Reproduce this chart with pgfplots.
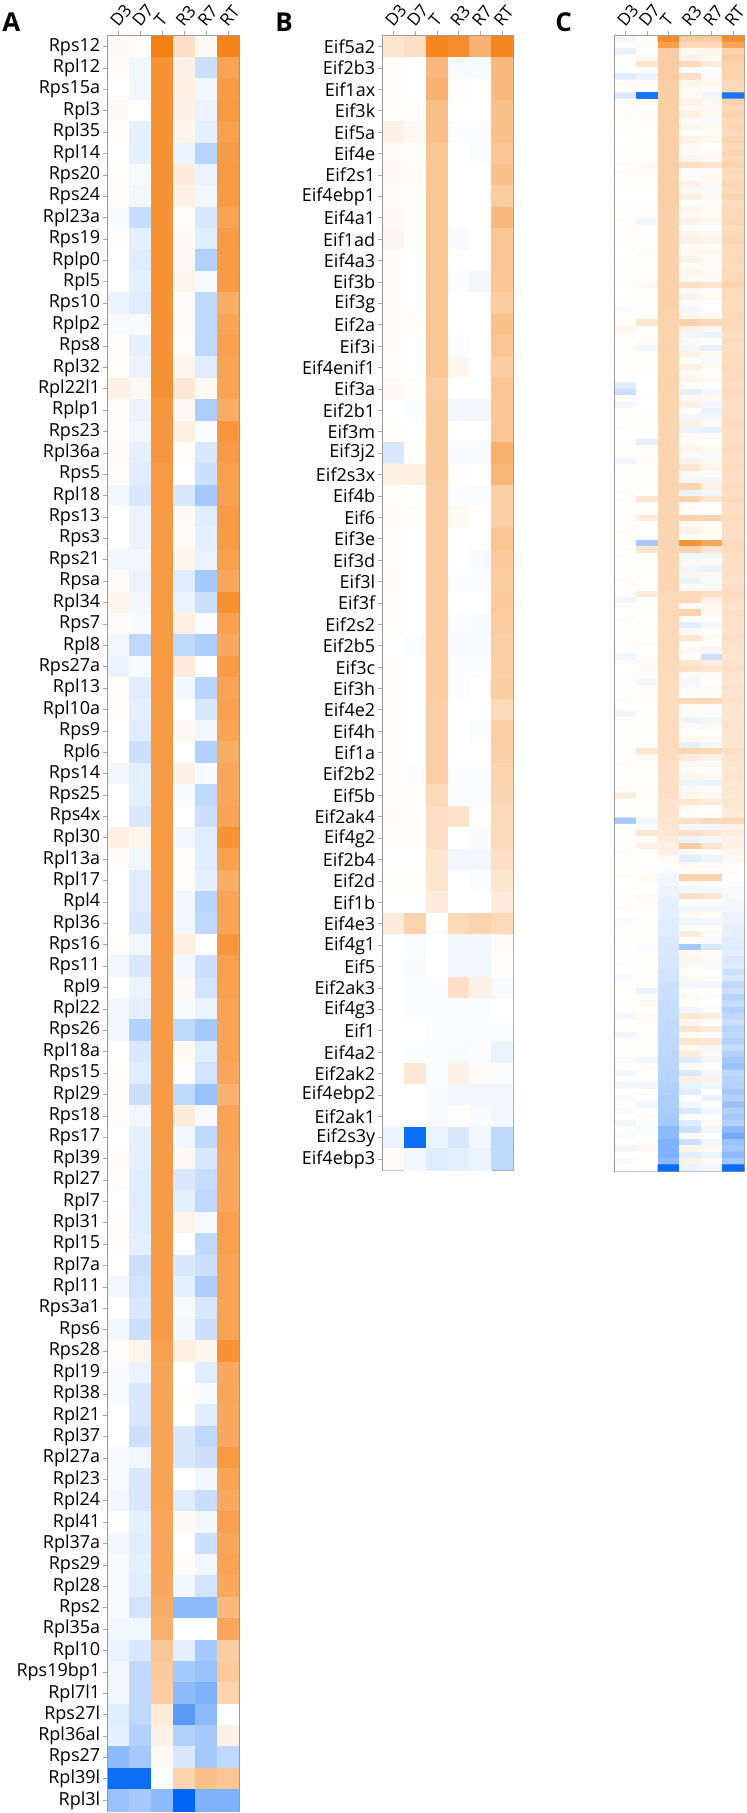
\documentclass[border=0pt]{standalone}
\usepackage{fontspec}
\setmainfont{Open Sans}
\usepackage{pgfplots}
\usepackage{pgfplotstable}
\pgfplotsset{compat=1.18}

% log ratios, blue = down, orange = up
\pgfplotstableread{
gene D3 D7 T R3 R7 RT
Rps12 0.05 0.02 1.0 0.25 0.05 0.98
Rpl12 0.03 -0.05 0.85 0.1 -0.2 0.72
Rps15a 0.0 -0.05 0.85 0.12 -0.05 0.78
Rpl3 0.05 0.0 0.85 0.1 -0.08 0.8
Rpl35 0.02 -0.1 0.85 0.08 -0.1 0.75
Rpl14 0.0 -0.1 0.85 -0.08 -0.28 0.78
Rps20 0.02 -0.03 0.85 0.15 -0.08 0.8
Rps24 0.02 -0.05 0.85 0.12 -0.05 0.8
Rpl23a -0.03 -0.22 0.85 0.02 -0.15 0.72
Rps19 0.02 -0.1 0.85 0.05 -0.12 0.78
Rplp0 0.0 -0.12 0.85 0.05 -0.3 0.8
Rpl5 0.0 -0.1 0.85 0.08 -0.03 0.78
Rps10 -0.08 -0.12 0.85 0.03 -0.25 0.65
Rplp2 -0.03 -0.03 0.85 0.03 -0.25 0.72
Rps8 0.02 -0.1 0.85 0.02 -0.25 0.75
Rpl32 0.02 -0.08 0.85 0.08 -0.12 0.72
Rpl22l1 0.12 0.05 0.85 0.18 0.05 0.72
Rplp1 0.02 -0.08 0.82 0.05 -0.32 0.65
Rps23 0.02 -0.05 0.82 0.12 -0.02 0.82
Rpl36a 0.03 -0.1 0.82 0.02 -0.15 0.78
Rps5 0.02 -0.12 0.8 0.0 -0.2 0.75
Rpl18 -0.05 -0.15 0.8 -0.15 -0.35 0.75
Rps13 0.0 -0.08 0.8 0.05 -0.12 0.78
Rps3 0.0 -0.08 0.8 0.03 -0.1 0.78
Rps21 -0.05 -0.05 0.8 0.08 -0.08 0.75
Rpsa 0.03 -0.08 0.8 -0.12 -0.35 0.7
Rpl34 0.08 -0.05 0.8 -0.08 -0.2 0.88
Rps7 0.03 -0.03 0.8 0.12 -0.02 0.75
Rpl8 -0.05 -0.25 0.8 -0.25 -0.32 0.68
Rps27a -0.08 -0.03 0.8 0.15 0.0 0.78
Rpl13 0.02 -0.12 0.8 -0.05 -0.28 0.72
Rpl10a 0.02 -0.1 0.8 0.0 -0.15 0.75
Rps9 0.0 -0.12 0.8 0.05 -0.05 0.72
Rpl6 0.0 -0.2 0.8 0.0 -0.3 0.65
Rps14 -0.05 -0.1 0.8 0.1 -0.03 0.7
Rps25 0.0 -0.1 0.8 -0.03 -0.25 0.7
Rps4x 0.0 -0.15 0.8 0.0 -0.2 0.72
Rpl30 0.12 0.08 0.8 -0.05 -0.12 0.85
Rpl13a 0.03 -0.05 0.8 0.02 -0.12 0.75
Rpl17 0.0 -0.12 0.8 0.02 -0.1 0.65
Rpl4 0.0 -0.12 0.8 -0.05 -0.28 0.72
Rpl36 0.0 -0.15 0.78 -0.05 -0.25 0.72
Rps16 0.02 -0.05 0.78 0.12 0.0 0.82
Rps11 -0.05 -0.15 0.78 -0.05 -0.2 0.75
Rpl9 0.0 -0.08 0.78 0.05 -0.18 0.75
Rpl22 -0.05 -0.1 0.78 -0.03 -0.08 0.72
Rps26 -0.05 -0.3 0.78 -0.25 -0.35 0.72
Rpl18a 0.0 -0.15 0.78 0.05 -0.12 0.72
Rps15 0.02 -0.12 0.78 0.02 -0.18 0.7
Rpl29 0.02 -0.2 0.78 -0.25 -0.4 0.6
Rps18 0.02 -0.05 0.78 0.15 -0.03 0.72
Rps17 0.0 -0.1 0.78 -0.05 -0.25 0.72
Rpl39 0.03 -0.1 0.78 0.05 -0.15 0.7
Rpl27 0.02 -0.12 0.78 -0.15 -0.22 0.7
Rpl7 0.0 -0.12 0.78 -0.1 -0.25 0.7
Rpl31 0.02 -0.12 0.78 0.08 -0.03 0.75
Rpl15 0.02 -0.1 0.78 0.0 -0.25 0.75
Rpl7a 0.0 -0.2 0.78 -0.15 -0.2 0.72
Rpl11 -0.05 -0.18 0.78 -0.1 -0.32 0.72
Rps3a1 0.0 -0.15 0.78 -0.03 -0.15 0.72
Rps6 -0.05 -0.2 0.78 -0.05 -0.2 0.72
Rps28 0.02 0.08 0.75 0.12 0.08 0.85
Rpl19 -0.03 -0.08 0.72 0.0 -0.12 0.68
Rpl38 -0.03 -0.15 0.72 0.02 -0.03 0.7
Rpl21 0.0 -0.15 0.72 0.0 -0.12 0.68
Rpl37 0.0 -0.2 0.72 -0.15 -0.25 0.68
Rpl27a -0.03 -0.05 0.72 -0.15 -0.2 0.8
Rpl23 -0.03 -0.15 0.72 0.0 -0.05 0.72
Rpl24 -0.05 -0.15 0.72 -0.12 -0.22 0.68
Rpl41 0.0 -0.1 0.7 0.05 -0.05 0.75
Rpl37a -0.05 -0.12 0.7 0.0 -0.2 0.7
Rps29 -0.03 -0.1 0.7 0.03 -0.05 0.72
Rpl28 -0.03 -0.12 0.68 -0.05 -0.18 0.68
Rps2 -0.03 -0.18 0.65 -0.45 -0.45 0.55
Rpl35a -0.05 -0.05 0.62 0.0 0.0 0.7
Rpl10 -0.08 -0.15 0.45 -0.1 -0.35 0.4
Rps19bp1 -0.05 -0.25 0.42 -0.35 -0.4 0.42
Rpl7l1 -0.05 -0.25 0.4 -0.45 -0.5 0.35
Rps27l -0.12 -0.25 0.15 -0.65 -0.45 0.0
Rpl36al -0.1 -0.3 0.1 -0.3 -0.35 0.1
Rps27 -0.45 -0.35 0.05 -0.15 -0.35 -0.25
Rpl39l -0.95 -0.95 0.0 0.35 0.5 0.45
Rpl3l -0.4 -0.35 -0.45 -1.0 -0.5 -0.5
}\dataA

\pgfplotstableread{
gene D3 D7 T R3 R7 RT
Eif5a2 0.2 0.25 0.95 0.9 0.6 0.95
Eif2b3 0.02 0.0 0.55 -0.03 -0.03 0.55
Eif1ax 0.02 0.0 0.6 0.02 0.0 0.55
Eif3k 0.02 0.02 0.5 0.0 0.0 0.5
Eif5a 0.1 0.05 0.5 -0.02 -0.02 0.5
Eif4e 0.03 0.02 0.45 0.0 -0.02 0.45
Eif2s1 0.05 0.03 0.45 0.0 0.0 0.5
Eif4ebp1 0.03 0.02 0.45 0.0 0.0 0.4
Eif4a1 0.05 0.02 0.45 0.0 0.0 0.55
Eif1ad 0.06 0.02 0.45 -0.03 0.0 0.45
Eif4a3 0.03 0.0 0.45 0.0 0.0 0.45
Eif3b 0.03 0.0 0.45 -0.02 -0.05 0.45
Eif3g 0.03 0.0 0.45 0.0 0.0 0.4
Eif2a 0.03 0.02 0.45 0.0 0.0 0.5
Eif3i 0.03 0.0 0.45 -0.02 0.0 0.45
Eif4enif1 0.02 0.0 0.45 0.08 0.0 0.4
Eif3a 0.05 0.02 0.4 0.0 0.0 0.45
Eif2b1 0.0 -0.02 0.42 -0.05 -0.05 0.45
Eif3m 0.02 0.0 0.42 0.0 0.0 0.45
Eif3j2 -0.15 0.02 0.42 -0.03 -0.03 0.62
Eif2s3x 0.12 0.12 0.42 0.02 0.0 0.58
Eif4b 0.02 0.0 0.4 -0.02 -0.02 0.38
Eif6 0.03 0.02 0.4 0.05 0.0 0.38
Eif3e 0.02 0.0 0.4 0.0 0.0 0.45
Eif3d 0.02 0.0 0.4 0.0 -0.03 0.42
Eif3l 0.03 0.0 0.4 -0.02 -0.02 0.4
Eif3f 0.02 0.0 0.4 0.0 0.0 0.42
Eif2s2 0.02 0.0 0.4 -0.02 -0.03 0.4
Eif2b5 0.0 -0.02 0.4 -0.03 -0.03 0.38
Eif3c 0.02 0.0 0.4 -0.02 -0.02 0.38
Eif3h 0.02 0.0 0.4 -0.02 0.0 0.4
Eif4e2 0.02 0.0 0.38 0.0 0.0 0.3
Eif4h 0.02 0.0 0.38 0.0 -0.02 0.38
Eif1a 0.02 0.0 0.38 0.0 0.0 0.38
Eif2b2 0.02 -0.02 0.38 -0.02 -0.02 0.35
Eif5b 0.02 0.02 0.3 -0.02 -0.02 0.32
Eif2ak4 0.03 0.02 0.25 0.22 0.02 0.3
Eif4g2 0.02 0.02 0.25 0.0 -0.03 0.3
Eif2b4 0.0 0.0 0.2 -0.05 -0.05 0.25
Eif2d 0.02 0.02 0.2 0.0 -0.02 0.2
Eif1b 0.0 0.0 0.15 0.0 0.0 0.15
Eif4e3 0.15 0.35 0.02 0.3 0.35 0.3
Eif4g1 0.0 -0.02 0.0 -0.05 -0.05 0.03
Eif5 0.0 -0.03 0.0 -0.05 -0.05 0.02
Eif2ak3 0.0 -0.02 -0.02 0.25 0.1 -0.03
Eif4g3 0.0 -0.02 -0.02 -0.02 -0.02 0.0
Eif1 0.0 0.0 -0.02 -0.02 -0.02 -0.02
Eif4a2 0.0 -0.02 -0.02 -0.03 -0.02 -0.08
Eif2ak2 0.0 0.18 -0.02 0.1 0.03 -0.02
Eif4ebp2 0.0 0.0 -0.03 -0.05 -0.05 -0.05
Eif2ak1 0.0 0.0 -0.03 0.02 -0.03 -0.05
Eif2s3y -0.08 -0.95 -0.08 -0.15 -0.05 -0.25
Eif4ebp3 0.03 -0.05 -0.12 -0.1 -0.08 -0.25
}\dataB

\pgfplotstableread{
D3 D7 T R3 R7 RT
-0.05 0.02 0.9 0.4 0.4 0.9
0.02 0.03 0.75 0.3 0.3 0.7
-0.08 0.0 0.4 0.05 0.08 0.35
0.02 0.05 0.4 0.1 0.05 0.4
0.02 0.2 0.4 0.3 0.15 0.35
0.0 0.02 0.4 -0.02 -0.02 0.35
-0.12 -0.08 0.4 0.25 0.05 0.35
0.02 0.02 0.38 0.08 0.05 0.3
0.0 0.0 0.38 0.05 0.03 0.3
-0.15 -0.9 0.38 0.03 -0.05 -0.9
0.03 0.02 0.38 0.1 0.05 0.35
0.02 0.0 0.38 0.05 0.05 0.3
0.03 0.03 0.38 0.12 0.05 0.35
0.0 0.02 0.38 0.03 -0.03 0.3
0.02 0.02 0.38 0.08 0.05 0.32
0.02 0.0 0.38 0.02 0.02 0.3
0.0 0.02 0.38 0.1 0.05 0.35
0.02 0.02 0.38 0.05 0.0 0.3
0.02 0.0 0.38 0.03 0.05 0.33
0.0 0.02 0.38 0.08 0.05 0.3
0.02 0.05 0.38 0.25 0.2 0.35
0.02 0.02 0.38 0.03 0.03 0.3
0.0 0.0 0.38 -0.02 0.05 0.28
0.02 0.02 0.38 0.1 0.05 0.32
0.02 0.02 0.38 0.05 -0.03 0.3
0.0 0.0 0.38 0.12 0.05 0.35
0.02 0.02 0.38 0.0 0.02 0.28
0.02 0.02 0.36 0.08 0.05 0.3
0.0 0.02 0.36 0.05 0.03 0.3
0.02 -0.05 0.36 0.1 0.05 0.32
0.02 0.0 0.36 0.02 0.0 0.28
0.0 0.02 0.36 0.08 0.05 0.3
0.02 0.02 0.36 0.12 0.08 0.33
0.02 0.0 0.36 0.03 0.03 0.3
0.0 0.02 0.36 0.05 0.05 0.28
0.02 0.02 0.36 0.1 0.05 0.3
0.02 0.0 0.36 0.02 -0.02 0.28
0.0 0.02 0.36 0.08 0.05 0.3
0.02 0.02 0.36 0.05 0.05 0.3
0.02 0.05 0.36 0.25 0.2 0.33
0.0 0.02 0.36 0.05 0.03 0.28
0.02 0.02 0.36 0.1 0.05 0.3
0.02 0.0 0.36 0.03 0.0 0.28
-0.03 0.02 0.35 -0.05 0.0 0.28
0.02 0.02 0.35 0.08 0.05 0.3
0.02 0.2 0.35 0.35 0.3 0.3
0.08 0.02 0.35 0.1 0.05 0.3
0.02 0.0 0.35 -0.05 -0.08 0.25
0.0 0.02 0.35 0.05 0.0 0.28
0.02 -0.05 0.35 -0.05 -0.1 0.25
0.02 0.02 0.35 0.1 0.05 0.28
0.0 0.0 0.35 0.02 -0.03 0.28
0.02 0.02 0.35 0.12 0.05 0.3
0.02 0.02 0.35 0.05 0.02 0.28
0.0 0.0 0.35 0.08 0.05 0.28
-0.12 0.0 0.35 0.02 0.0 0.25
-0.2 0.0 0.35 -0.1 -0.05 0.3
0.02 0.02 0.35 0.05 0.05 0.25
-0.05 0.0 0.35 0.12 -0.05 0.25
0.0 0.02 0.35 0.0 -0.08 0.25
0.02 0.02 0.33 -0.05 -0.05 0.25
0.0 0.0 0.33 0.1 0.05 0.28
0.02 0.02 0.33 -0.08 -0.1 0.25
0.0 0.0 0.33 0.05 0.03 0.25
0.02 -0.1 0.33 0.02 0.0 0.25
0.0 0.02 0.33 0.08 0.05 0.28
0.02 0.0 0.33 -0.03 -0.03 0.25
-0.05 0.02 0.33 0.1 0.05 0.25
0.02 0.02 0.33 0.2 0.08 0.28
0.0 0.0 0.33 0.05 0.02 0.25
0.02 0.02 0.33 -0.05 -0.05 0.25
0.0 0.02 0.33 0.35 0.1 0.28
0.02 0.0 0.33 -0.08 -0.05 0.25
0.02 0.2 0.33 0.35 0.2 0.3
0.0 0.02 0.33 0.05 0.03 0.25
0.02 0.02 0.33 0.02 0.0 0.25
0.0 0.15 0.33 0.35 0.35 0.28
0.02 0.02 0.33 0.05 0.02 0.25
0.02 0.0 0.32 0.1 0.05 0.25
0.0 0.02 0.32 0.02 0.02 0.25
0.02 -0.35 0.32 0.85 0.7 0.3
0.0 0.2 0.32 0.35 0.2 0.28
0.02 0.02 0.32 -0.05 -0.05 0.25
0.0 0.0 0.32 0.05 0.02 0.25
0.02 0.02 0.32 -0.05 -0.08 0.25
0.0 0.02 0.32 0.08 0.05 0.25
0.02 0.0 0.32 -0.08 -0.03 0.22
0.02 0.02 0.32 0.05 0.05 0.25
0.0 0.15 0.3 0.3 0.25 0.28
-0.05 0.02 0.3 0.3 0.1 0.25
0.02 0.0 0.3 0.05 0.05 0.22
0.0 0.02 0.3 0.35 0.05 0.25
0.02 0.0 0.3 0.02 0.02 0.22
0.0 0.02 0.3 -0.12 -0.05 0.22
0.02 0.02 0.3 0.05 0.02 0.22
0.0 0.0 0.3 0.2 0.05 0.25
0.02 0.02 0.3 0.02 0.02 0.22
0.0 0.0 0.3 0.05 -0.05 0.22
-0.05 0.02 0.3 0.02 -0.2 0.2
0.02 0.05 0.3 0.2 0.15 0.22
0.0 0.05 0.3 0.25 0.2 0.25
0.02 0.02 0.28 0.05 0.03 0.2
0.0 -0.05 0.28 -0.05 0.0 0.2
0.02 0.02 0.28 0.05 0.05 0.22
0.0 0.02 0.28 0.02 0.02 0.2
0.02 0.02 0.28 0.3 0.3 0.22
0.0 0.0 0.28 0.05 0.03 0.2
-0.05 0.02 0.28 0.02 0.02 0.2
0.02 0.0 0.28 -0.08 -0.05 0.2
0.0 0.02 0.28 0.05 0.05 0.22
0.02 0.02 0.28 0.02 0.0 0.2
0.0 0.0 0.28 0.05 0.03 0.2
0.02 0.02 0.28 -0.1 -0.05 0.2
0.02 0.2 0.28 0.35 0.3 0.25
0.0 0.05 0.28 0.15 0.1 0.22
0.02 0.02 0.25 0.05 0.05 0.2
0.0 0.02 0.25 0.02 0.02 0.18
0.02 0.0 0.25 0.08 0.05 0.2
0.0 0.02 0.25 -0.08 -0.08 0.18
0.02 0.02 0.25 0.05 0.03 0.2
0.15 0.02 0.25 0.08 0.05 0.18
0.0 0.02 0.22 0.2 0.15 0.2
0.02 0.0 0.22 0.05 0.02 0.18
0.0 0.02 0.22 0.02 0.02 0.15
-0.35 -0.05 0.2 0.25 0.3 0.3
0.02 0.02 0.2 -0.05 -0.05 0.12
0.0 0.2 0.18 0.25 0.2 0.15
0.02 0.02 0.15 -0.08 -0.05 0.1
0.0 0.1 0.12 0.4 0.2 0.1
0.02 0.02 0.1 0.05 0.02 0.08
0.0 0.0 0.05 -0.12 -0.08 0.05
0.02 0.02 0.0 0.05 0.05 0.03
0.0 0.02 -0.03 0.02 0.0 0.02
0.02 0.05 -0.05 0.35 0.35 0.0
0.0 0.02 -0.05 0.02 0.0 -0.02
0.02 0.0 -0.08 -0.05 -0.05 -0.03
0.02 0.05 -0.08 0.25 0.2 -0.03
0.0 0.02 -0.1 0.02 0.02 -0.05
0.02 0.02 -0.1 -0.05 -0.05 -0.05
0.0 0.0 -0.1 0.05 0.02 -0.08
-0.03 0.02 -0.12 -0.05 -0.05 -0.08
0.02 0.02 -0.12 0.02 0.02 -0.1
0.0 0.0 -0.12 0.15 0.05 -0.1
0.02 0.02 -0.14 0.02 -0.03 -0.12
0.0 -0.03 -0.15 -0.35 -0.15 -0.12
0.02 0.02 -0.15 0.05 0.02 -0.1
0.0 0.0 -0.16 0.08 0.05 -0.15
0.02 0.02 -0.16 -0.03 -0.03 -0.12
0.0 0.02 -0.18 0.02 0.0 -0.2
-0.03 0.0 -0.18 0.05 0.02 -0.15
0.0 0.02 -0.2 -0.05 -0.05 -0.25
0.02 -0.08 -0.2 0.02 0.0 -0.2
0.0 0.02 -0.2 0.05 0.02 -0.28
0.02 0.05 -0.22 0.02 0.0 -0.22
0.0 0.0 -0.22 -0.05 -0.03 -0.3
-0.05 0.05 -0.22 0.2 0.15 -0.25
0.0 0.02 -0.24 0.08 0.02 -0.2
0.02 0.0 -0.24 0.2 0.15 -0.28
-0.05 0.02 -0.24 0.05 0.02 -0.25
0.0 0.03 -0.25 0.2 0.2 -0.3
0.02 0.0 -0.25 0.05 -0.05 -0.22
0.0 0.02 -0.26 0.15 0.05 -0.3
-0.03 -0.05 -0.26 -0.12 -0.05 -0.35
0.0 0.02 -0.27 0.05 0.02 -0.4
-0.05 0.0 -0.28 -0.15 -0.05 -0.25
0.0 0.02 -0.28 0.12 0.1 -0.28
-0.05 -0.05 -0.3 -0.08 -0.05 -0.3
0.0 0.02 -0.3 -0.12 0.0 -0.35
-0.03 0.0 -0.32 0.0 -0.08 -0.3
0.0 -0.05 -0.32 -0.05 0.02 -0.4
-0.03 0.0 -0.33 -0.15 -0.05 -0.3
0.0 0.02 -0.35 0.02 0.0 -0.35
-0.05 0.0 -0.35 -0.12 0.05 -0.3
0.0 -0.03 -0.45 -0.2 -0.05 -0.45
-0.03 0.0 -0.45 0.02 0.0 -0.55
0.0 0.02 -0.5 -0.2 -0.05 -0.4
-0.05 0.05 -0.5 0.08 0.05 -0.35
0.0 0.0 -0.5 -0.1 -0.08 -0.45
-0.03 0.02 -0.45 0.1 0.05 -0.35
0.0 0.0 -0.95 -0.08 -0.05 -0.95
}\dataC

% wide table -> matrix plot coordinates (#3 = index of first value column)
\makeatletter
\newcommand\heatcoords[3]{%
  \pgfplotstablegetrowsof{#1}%
  \pgfmathtruncatemacro\hc@last{\pgfplotsretval-1}%
  \gdef#2{}%
  \pgfplotsforeachungrouped \hc@r in {0,...,\hc@last}{%
    \pgfplotsforeachungrouped \hc@x in {0,...,5}{%
      \pgfmathtruncatemacro\hc@c{\hc@x+#3}%
      \pgfplotstablegetelem{\hc@r}{[index]\hc@c}\of{#1}%
      \xdef#2{#2 (\hc@x,\hc@r) [\pgfplotsretval]}%
    }%
  }%
}
\makeatother
\heatcoords{\dataA}{\coordsA}{1}
\heatcoords{\dataB}{\coordsB}{1}
\heatcoords{\dataC}{\coordsC}{0}

\pgfplotsset{
  heat/.style={
    scale only axis,
    enlargelimits=false,
    y dir=reverse,
    colormap={blor}{rgb255=(0,102,245) rgb255=(255,255,255) rgb255=(244,128,20)},
    point meta min=-1, point meta max=1,
    xmin=-0.5, xmax=5.5,
    xtick={0,...,5},
    xticklabels={D3,D7,T,R3,R7,RT},
    xtick pos=right, xticklabel pos=right,
    ytick pos=left,
    tick align=outside,
    major tick length=2.5pt,
    tick style={gray!70, line width=0.5pt},
    axis line style={gray!80, line width=0.8pt},
    xticklabel style={rotate=50, anchor=south west, inner sep=1pt,
      font=\fontsize{8.5}{10}\selectfont},
    yticklabel style={inner sep=1.2pt, font=\fontsize{9}{10}\selectfont},
  },
}
\tikzset{panel/.style={font=\bfseries\fontsize{13}{13}\selectfont, anchor=base west, inner sep=0pt}}

\begin{document}
\begin{tikzpicture}
\useasboundingbox (0,-906.5pt) rectangle (373.5pt,0);

\begin{axis}[heat, at={(54pt,-18pt)}, anchor=north west,
    width=65.5pt, height=887.5pt,
    ymin=-0.5, ymax=82.5, ytick={0,...,82},
    yticklabels from table={\dataA}{gene}]
\edef\tmp{\noexpand\addplot[matrix plot*, mesh/cols=6, point meta=explicit] coordinates {\coordsA};}\tmp
\end{axis}

\begin{axis}[heat, at={(191.5pt,-18pt)}, anchor=north west,
    width=65pt, height=567pt,
    ymin=-0.5, ymax=52.5, ytick={0,...,52},
    yticklabels from table={\dataB}{gene}]
\edef\tmp{\noexpand\addplot[matrix plot*, mesh/cols=6, point meta=explicit] coordinates {\coordsB};}\tmp
\end{axis}

\begin{axis}[heat, at={(307.5pt,-18pt)}, anchor=north west,
    width=64.5pt, height=567.5pt,
    ymin=-0.5, ymax=179.5, ytick=\empty]
\edef\tmp{\noexpand\addplot[matrix plot*, mesh/cols=6, point meta=explicit] coordinates {\coordsC};}\tmp
\end{axis}

\node[panel] at (1pt,-16pt) {A};
\node[panel] at (137.5pt,-16pt) {B};
\node[panel] at (277.5pt,-16pt) {C};
\end{tikzpicture}
\end{document}
